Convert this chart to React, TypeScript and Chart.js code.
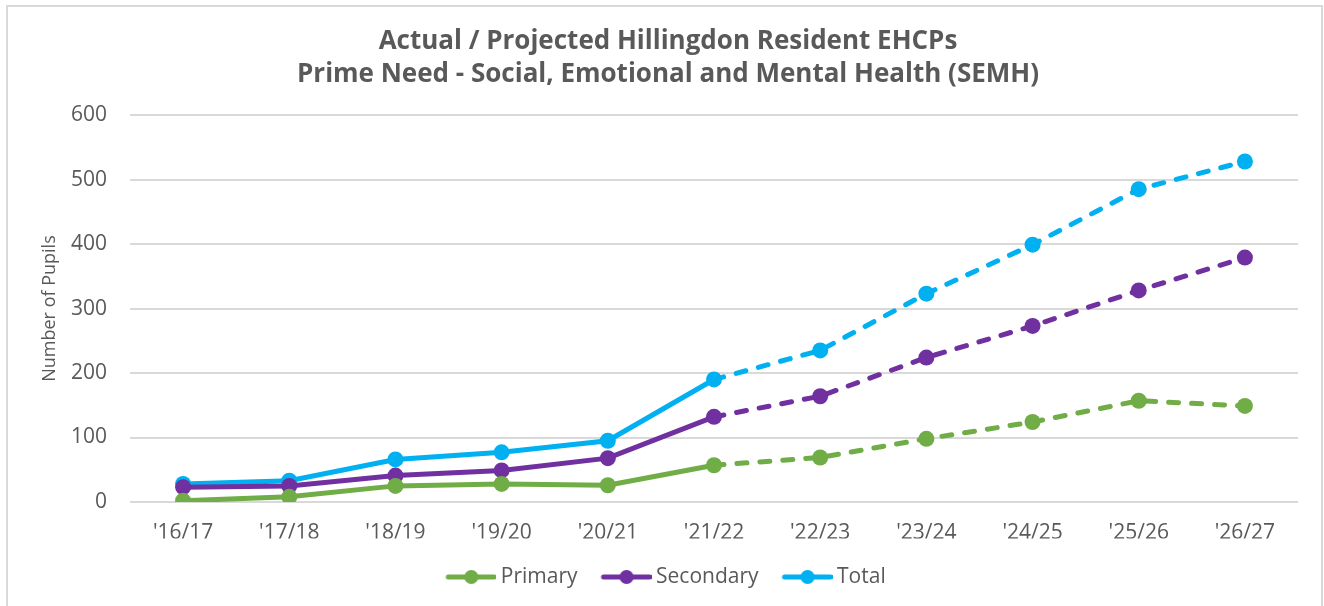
import React, { useEffect, useRef } from "react";
import { Chart, registerables } from "chart.js";

Chart.register(...registerables);

const categories = ["'16/17", "'17/18", "'18/19", "'19/20", "'20/21", "'21/22", "'22/23", "'23/24", "'24/25", "'25/26", "'26/27"];
const primary = [2, 8, 25, 28, 26, 57, 69, 98, 124, 157, 149];
const secondary = [23, 25, 41, 49, 68, 132, 164, 224, 273, 328, 379];
const total = [28, 33, 66, 77, 95, 190, 235, 323, 399, 485, 528];
const yTicks = [0, 100, 200, 300, 400, 500, 600];
const titleLines = ["Actual / Projected Hillingdon Resident EHCPs", "Prime Need - Social, Emotional and Mental Health (SEMH)"];
const yTitle = "Number of Pupils";
const projectedFromIndex = 5;

const GREEN = "#70AD47";
const PURPLE = "#7030A0";
const CYAN = "#00B0F0";
const TEXT = "#595959";
const GRID = "#D9D9D9";

function legendIcon(color: string): HTMLCanvasElement {
  const c = document.createElement("canvas");
  c.width = 52;
  c.height = 16;
  const g = c.getContext("2d")!;
  g.strokeStyle = color;
  g.lineWidth = 5;
  g.lineCap = "round";
  g.beginPath();
  g.moveTo(4, 8);
  g.lineTo(50, 8);
  g.stroke();
  g.fillStyle = color;
  g.beginPath();
  g.arc(27, 8, 7, 0, Math.PI * 2);
  g.fill();
  return c;
}

export default function App() {
  const ref = useRef<HTMLCanvasElement | null>(null);

  useEffect(() => {
    document.body.style.margin = "0";
    const mk = (label: string, data: number[], color: string) => ({
      label,
      data,
      borderColor: color,
      backgroundColor: color,
      borderWidth: 5,
      pointRadius: 8,
      pointHoverRadius: 8,
      pointBorderWidth: 0,
      pointStyle: "circle" as const,
      tension: 0,
      borderCapStyle: "round" as const,
      segment: {
        borderDash: (ctx: any) => (ctx.p0DataIndex >= projectedFromIndex ? [10, 13] : undefined),
      },
    });
    const icons: Record<string, HTMLCanvasElement> = {
      Primary: legendIcon(GREEN),
      Secondary: legendIcon(PURPLE),
      Total: legendIcon(CYAN),
    };
    const chart = new Chart(ref.current!, {
      type: "line",
      data: {
        labels: categories,
        datasets: [mk("Primary", primary, GREEN), mk("Secondary", secondary, PURPLE), mk("Total", total, CYAN)],
      },
      options: {
        animation: false,
        responsive: false,
        maintainAspectRatio: false,
        layout: { padding: { left: 38, right: 26, top: 0, bottom: 8.5 } },
        plugins: {
          title: {
            display: true,
            text: titleLines,
            color: TEXT,
            font: { family: "'Open Sans'", size: 26, weight: "bold", lineHeight: 1.27 },
            padding: { top: 25, bottom: 24 },
          },
          legend: {
            position: "bottom",
            labels: {
              usePointStyle: true,
              pointStyleWidth: 40,
              boxHeight: 16,
              color: TEXT,
              font: { family: "'Open Sans'", size: 21 },
              padding: 28,
              generateLabels: (ch: any) =>
                ch.data.datasets.map((ds: any, i: number) => ({
                  text: ds.label,
                  pointStyle: icons[ds.label],
                  fillStyle: ds.borderColor,
                  strokeStyle: ds.borderColor,
                  lineWidth: 0,
                  fontColor: TEXT,
                  hidden: false,
                  datasetIndex: i,
                })),
            },
          },
          tooltip: { enabled: false },
        },
        scales: {
          x: {
            offset: true,
            afterFit: (s: any) => {
              s.height = 36.5;
            },
            grid: { display: false, drawTicks: false },
            border: { display: false },
            ticks: { color: TEXT, font: { family: "'Open Sans'", size: 21 }, padding: 18, maxRotation: 0 },
          },
          y: {
            min: 0,
            max: 600,
            afterFit: (s: any) => {
              s.width = 92;
            },
            afterBuildTicks: (s: any) => {
              s.ticks = yTicks.map((v) => ({ value: v }));
            },
            grid: { color: GRID, lineWidth: 2, drawTicks: false },
            border: { display: false },
            ticks: { color: TEXT, font: { family: "'Open Sans'", size: 21 }, padding: 23 },
            title: {
              display: true,
              text: yTitle,
              color: TEXT,
              font: { family: "'Open Sans'", size: 18 },
              padding: { top: 1, bottom: 0 },
            },
          },
        },
      },
    });
    return () => chart.destroy();
  }, []);

  return (
    <div style={{ position: "relative", width: 1324, height: 606, overflow: "hidden", background: "#fff" }}>
      <canvas ref={ref} width={1324} height={606} style={{ position: "absolute", left: 0, top: 0 }} />
      <div
        style={{
          position: "absolute",
          left: 6,
          top: 5,
          width: 1317,
          height: 620,
          border: "2px solid #D9D9D9",
          boxSizing: "border-box",
          pointerEvents: "none",
        }}
      />
    </div>
  );
}
